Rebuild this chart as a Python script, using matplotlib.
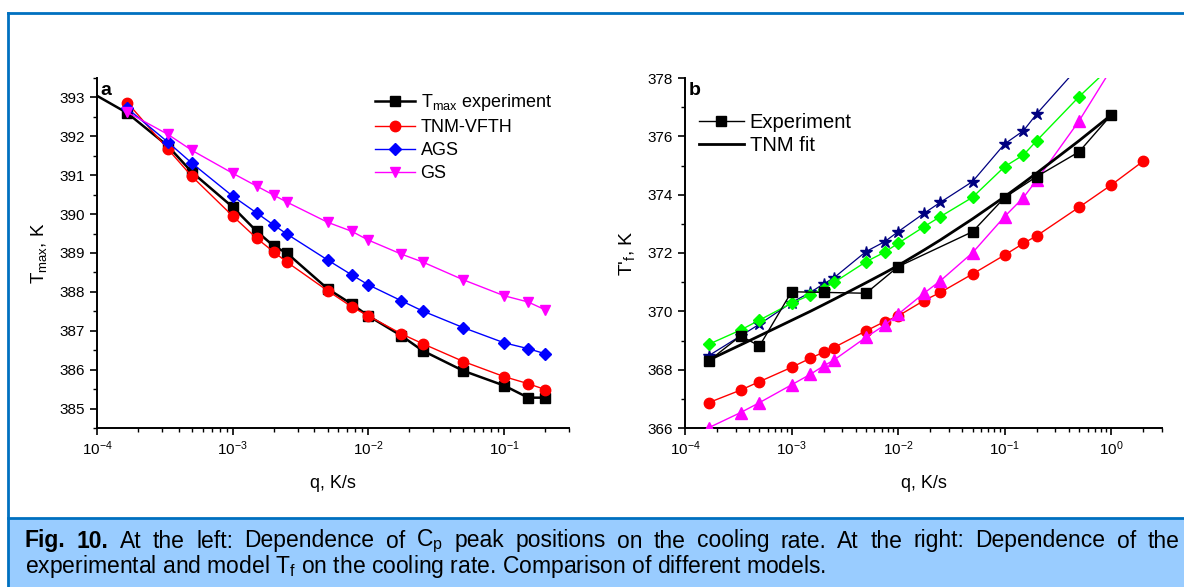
import matplotlib
matplotlib.use('Agg')
import matplotlib.pyplot as plt
from matplotlib.ticker import MultipleLocator, LogLocator, NullFormatter
from matplotlib.patches import Rectangle
from matplotlib.lines import Line2D

plt.rcParams['font.family'] = ['Liberation Sans', 'DejaVu Sans']
plt.rcParams['mathtext.fontset'] = 'custom'
plt.rcParams['mathtext.rm'] = 'Liberation Sans'
plt.rcParams['mathtext.it'] = 'Liberation Sans:italic'
plt.rcParams['mathtext.bf'] = 'Liberation Sans:bold'
plt.rcParams['mathtext.default'] = 'regular'

# --- panel a: peak temperature vs cooling rate ---
q_a = [1.67e-4, 3.33e-4, 5e-4, 1e-3, 1.5e-3, 2e-3, 2.5e-3, 5e-3, 7.5e-3,
       1e-2, 1.75e-2, 2.5e-2, 5e-2, 0.1, 0.15, 0.2]
q_a_exp = [8.33e-5] + q_a
tmax_exp = [393.2, 392.6, 391.75, 391.08, 390.18, 389.56, 389.18, 389.0, 388.08,
            387.69, 387.38, 386.87, 386.49, 385.97, 385.59, 385.28, 385.28]
tmax_tnm = [392.87, 391.67, 390.97, 389.95, 389.38, 389.03, 388.77, 388.03, 387.62,
            387.38, 386.92, 386.67, 386.21, 385.82, 385.64, 385.49]
tmax_ags = [392.72, 391.85, 391.31, 390.46, 390.03, 389.72, 389.49, 388.82, 388.44,
            388.18, 387.77, 387.51, 387.08, 386.69, 386.54, 386.41]
tmax_gs = [392.62, 392.05, 391.64, 391.05, 390.72, 390.49, 390.31, 389.79, 389.56,
           389.33, 388.97, 388.77, 388.31, 387.90, 387.74, 387.54]

# --- panel b: fictive temperature vs cooling rate ---
q_b = q_a + [0.5, 1.0, 2.0]
q_b_exp = [1.67e-4, 3.33e-4, 5e-4, 1e-3, 2e-3, 5e-3, 1e-2, 5e-2, 0.1, 0.2, 0.5, 1.0]
tf_exp = [368.30, 369.16, 368.81, 370.67, 370.65, 370.62, 371.53, 372.73, 373.90,
          374.62, 375.47, 376.73]
tf_fit = [368.33, 368.85, 369.16, 369.69, 370.0, 370.23, 370.41, 370.98, 371.32,
          371.57, 372.1, 372.45, 373.17, 373.93, 374.4, 374.74, 375.85, 376.73]
tf_star = [368.48, 369.16, 369.56, 370.30, 370.65, 370.94, 371.15, 372.05, 372.39,
           372.73, 373.36, 373.74, 374.45, 375.74, 376.19, 376.77, 378.4]
tf_green = [368.87, 369.36, 369.70, 370.28, 370.56, 370.78, 370.99, 371.70, 372.03,
            372.33, 372.90, 373.25, 373.91, 374.96, 375.36, 375.85, 377.36, 378.4]
tf_red = [366.87, 367.30, 367.59, 368.08, 368.39, 368.60, 368.76, 369.33, 369.65,
          369.84, 370.37, 370.65, 371.28, 371.93, 372.33, 372.59, 373.57, 374.33, 375.15]
tf_mag = [366.01, 366.53, 366.87, 367.48, 367.84, 368.13, 368.33, 369.11, 369.53,
          369.90, 370.62, 371.05, 372.01, 373.25, 373.90, 374.50, 376.53, 378.3]

fig = plt.figure(figsize=(11.84, 5.87), dpi=100)

border = '#0070C0'
fig.patches.append(Rectangle((8 / 1184, 0), 1, 1 - 519 / 587, transform=fig.transFigure,
                             facecolor='#99CCFF', edgecolor='none', zorder=0))
fig.add_artist(Line2D([8 / 1184, 1], [1 - 12.5 / 587] * 2, color=border, lw=2))
fig.add_artist(Line2D([8 / 1184] * 2, [0, 1 - 12.5 / 587], color=border, lw=2))
fig.add_artist(Line2D([8 / 1184, 1], [1 - 518 / 587] * 2, color=border, lw=2))


def style_axes(ax):
    for s in ['top', 'right']:
        ax.spines[s].set_visible(False)
    for s in ['left', 'bottom']:
        ax.spines[s].set_linewidth(1.4)
    ax.set_xscale('log')
    ax.xaxis.set_major_locator(LogLocator(base=10, numticks=20))
    ax.xaxis.set_minor_locator(LogLocator(base=10, subs=range(2, 10), numticks=20))
    ax.xaxis.set_minor_formatter(NullFormatter())
    ax.tick_params(which='major', direction='out', length=5, width=1.2, labelsize=11)
    ax.tick_params(which='minor', direction='out', length=3, width=1.0)
    ax.set_xlabel('q, K/s', fontsize=13, labelpad=12)


ax1 = fig.add_axes([97 / 1184, 1 - 428 / 587, 472 / 1184, 350 / 587])
style_axes(ax1)
ax1.plot(q_a_exp, tmax_exp, color='black', lw=1.8, marker='s', ms=6.5,
         label=r'T$_{max}$ experiment', zorder=3)
ax1.plot(q_a, tmax_tnm, color='red', lw=1, marker='o', ms=7.5, label='TNM-VFTH', zorder=4)
ax1.plot(q_a, tmax_ags, color='blue', lw=1, marker='D', ms=6.5, label='AGS', zorder=4)
ax1.plot(q_a, tmax_gs, color='#FF00FF', lw=1, marker='v', ms=7.5, label='GS', zorder=4)
ax1.set_xlim(1e-4, 0.3)
ax1.set_ylim(384.5, 393.5)
ax1.yaxis.set_major_locator(MultipleLocator(1))
ax1.yaxis.set_minor_locator(MultipleLocator(0.5))
ax1.set_ylabel(r'T$_{max}$, K', fontsize=13.5, labelpad=8)
ax1.text(0.008, 0.965, 'a', transform=ax1.transAxes, fontsize=14, fontweight='bold',
         va='center', ha='left')
ax1.legend(loc='upper left', bbox_to_anchor=(0.59, 0.96), frameon=False, fontsize=13,
           handlelength=2.2, handletextpad=0.3, labelspacing=0.33, borderpad=0,
           borderaxespad=0)

ax2 = fig.add_axes([685 / 1184, 1 - 428 / 587, 477 / 1184, 350 / 587])
style_axes(ax2)
ax2.plot(q_b[:17], tf_star, color='#000080', lw=0.9, marker='*', ms=9, zorder=4)
ax2.plot(q_b[:18], tf_green, color='#00FF00', lw=1, marker='D', ms=6.5, zorder=4)
ax2.plot(q_b, tf_red, color='red', lw=1, marker='o', ms=7.5, zorder=4)
ax2.plot(q_b[:18], tf_mag, color='#FF00FF', lw=1, marker='^', ms=8, zorder=4)
ax2.plot(q_b_exp, tf_exp, color='black', lw=1, marker='s', ms=6.5, label='Experiment',
         zorder=5)
ax2.plot(q_b[:18], tf_fit, color='black', lw=2, label='TNM fit', zorder=5)
ax2.set_xlim(1e-4, 3)
ax2.set_ylim(366, 378)
ax2.yaxis.set_major_locator(MultipleLocator(2))
ax2.yaxis.set_minor_locator(MultipleLocator(1))
ax2.set_ylabel(r"T$'_f$, K", fontsize=14, labelpad=8)
ax2.text(0.008, 0.965, 'b', transform=ax2.transAxes, fontsize=14, fontweight='bold',
         va='center', ha='left')
ax2.legend(loc='upper left', bbox_to_anchor=(0.03, 0.9), frameon=False, fontsize=14.5,
           handlelength=2.2, handletextpad=0.3, labelspacing=0.2, borderpad=0,
           borderaxespad=0)

# caption, first line spread across the full width
renderer = fig.canvas.get_renderer()
words = ['Fig.', '10.', 'At', 'the', 'left:', 'Dependence', 'of', r'C$_p$', 'peak',
         'positions', 'on', 'the', 'cooling', 'rate.', 'At', 'the', 'right:',
         'Dependence', 'of', 'the']
x_left, x_right = 25 / 1184, 1179 / 1184
y1 = 1 - 541 / 587
items = []
for i, w in enumerate(words):
    t = fig.text(0, y1, w, fontsize=16.5, va='center', ha='left',
                 fontweight='bold' if i < 2 else 'normal')
    items.append(t)
widths = [t.get_window_extent(renderer).width / fig.bbox.width for t in items]
gap = (x_right - x_left - sum(widths)) / (len(words) - 1)
x = x_left
for t, w in zip(items, widths):
    t.set_x(x)
    x += w + gap
fig.text(x_left, 1 - 567 / 587,
         r'experimental and model T$_f$ on the cooling rate. Comparison of different models.',
         fontsize=16.5, va='center', ha='left')

fig.savefig('out.png', dpi=100)
